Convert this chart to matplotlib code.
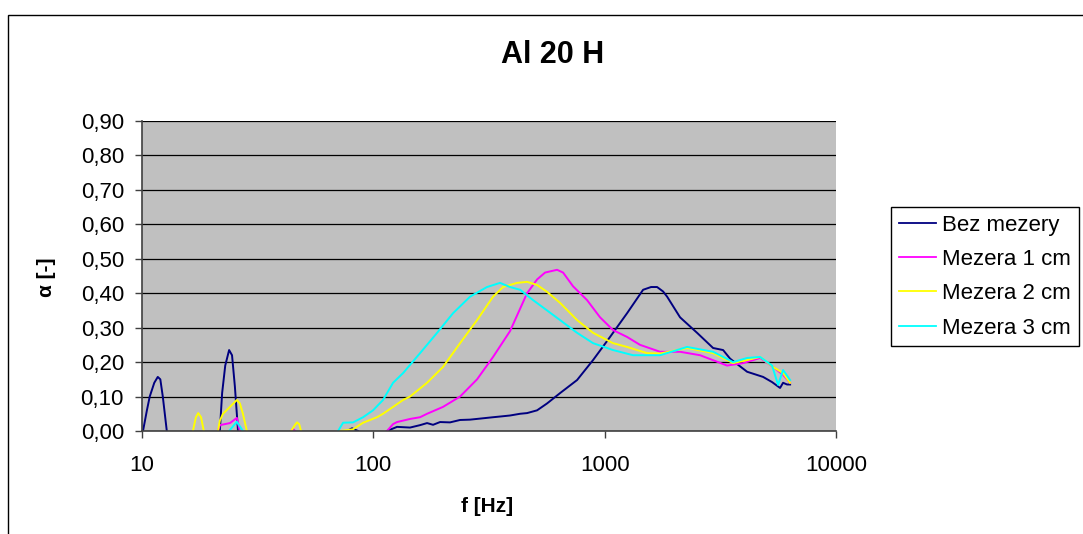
import numpy as np
import matplotlib
matplotlib.use("Agg")
import matplotlib.pyplot as plt
from matplotlib.patches import Rectangle
from matplotlib.ticker import FuncFormatter, FixedLocator, NullLocator

plt.rcParams['font.family'] = ['Liberation Sans', 'DejaVu Sans']

nan = np.nan

# values (frequency in Hz, alpha)
f_bez = [10.1, 10.5, 10.8, 11.3, 11.7, 12.0, 12.3, 12.8, nan,
         21.7, 22.2, 22.9, 23.8, 24.5, 25.2, 25.7, 26.0, nan,
         76.9, 80.9, 85.9, nan,
         114.6, 126.6, 144.1, 159.2, 170.7, 181.2, 194.3, 214.5, 237.1, 261.9,
         289.3, 329.3, 353.0, 389.9, 430.8, 461.9, 510.3, 563.6, 641.5, 760.0,
         891.0, 1055, 1250, 1466, 1587, 1685, 1789, 1862, 2118, 2509, 2942,
         3251, 3485, 4128, 4840, 5292, 5731, 5905, 6145, 6333]
a_bez = [0, 0.06, 0.10, 0.14, 0.157, 0.15, 0.10, 0, nan,
         0, 0.11, 0.19, 0.235, 0.22, 0.13, 0.05, 0, nan,
         0.0, 0.008, 0.0, nan,
         0.0, 0.012, 0.01, 0.017, 0.023, 0.018, 0.026, 0.025, 0.032, 0.033,
         0.036, 0.04, 0.042, 0.045, 0.05, 0.052, 0.06, 0.08, 0.11, 0.148,
         0.206, 0.273, 0.342, 0.41, 0.418, 0.418, 0.405, 0.39, 0.33, 0.285, 0.241,
         0.235, 0.21, 0.172, 0.157, 0.142, 0.125, 0.14, 0.135, 0.135]

f_m1 = [21.3, 21.7, 24.0, 25.7, 26.5, nan,
        44.1, 45.0, 45.9, nan,
        114.6, 121.7, 126.6, 144.1, 159.2, 170.7, 200.1, 237.1, 280.8, 329.3,
        389.9, 461.9, 510.3, 552.6, 622.6, 661.0, 730.2, 839.3, 955.2, 1087,
        1250, 1423, 1736, 2118, 2585, 3382, 3966, 4697, 5346, 5905, 6333]
a_m1 = [0, 0.017, 0.023, 0.038, 0, nan,
        0, 0.006, 0, nan,
        0, 0.02, 0.026, 0.035, 0.04, 0.05, 0.07, 0.10, 0.15, 0.215,
        0.29, 0.40, 0.44, 0.46, 0.468, 0.46, 0.42, 0.38, 0.33, 0.293,
        0.273, 0.25, 0.23, 0.23, 0.22, 0.19, 0.197, 0.212, 0.186, 0.163, 0.14]

f_m2 = [16.6, 17.1, 17.5, 18.0, 18.5, nan,
        21.3, 21.7, 22.4, 24.0, 25.7, 26.5, 27.3, 28.4, nan,
        44.1, 45.9, 46.8, 47.8, 48.7, nan,
        71.8, 81.7, 90.3, 103.7, 110.1, 121.7, 134.4, 144.1, 170.7, 200.1,
        237.1, 280.8, 329.3, 363.7, 418.1, 461.9, 510.3, 563.6, 641.5, 760.0,
        891.0, 1087, 1250, 1525, 1736, 2272, 2942, 3591, 4128, 4697, 5346,
        5905, 6333]
a_m2 = [0, 0.04, 0.052, 0.04, 0, nan,
        0, 0.03, 0.05, 0.07, 0.09, 0.08, 0.05, 0, nan,
        0, 0.018, 0.025, 0.02, 0, nan,
        0, 0.005, 0.024, 0.04, 0.05, 0.07, 0.09, 0.10, 0.14, 0.186,
        0.255, 0.322, 0.39, 0.418, 0.43, 0.433, 0.424, 0.404, 0.372, 0.322,
        0.285, 0.255, 0.244, 0.226, 0.225, 0.241, 0.226, 0.197, 0.206, 0.215, 0.186,
        0.168, 0.14]

f_m3 = [23.8, 25.7, 27.3, nan,
        70.4, 74.0, 81.7, 90.3, 99.7, 110.1, 121.7, 134.4, 159.2, 188.6,
        221.1, 261.9, 310.0, 353.0, 389.9, 430.8, 490.4, 563.6, 641.5, 760.0,
        891.0, 1087, 1327, 1736, 2272, 2942, 3591, 4128, 4697, 5292, 5618,
        5905, 6333]
a_m3 = [0, 0.027, 0, nan,
        0, 0.024, 0.025, 0.04, 0.06, 0.09, 0.14, 0.168, 0.226, 0.285,
        0.342, 0.39, 0.418, 0.43, 0.418, 0.41, 0.38, 0.35, 0.322, 0.285,
        0.255, 0.235, 0.22, 0.22, 0.244, 0.23, 0.2, 0.212, 0.215, 0.19, 0.134,
        0.177, 0.148]

labels = ['Bez mezery', 'Mezera 1 cm', 'Mezera 2 cm', 'Mezera 3 cm']
colors = ['#000080', '#FF00FF', '#FFFF00', '#00FFFF']
x_ticks = [10, 100, 1000, 10000]
y_ticks = [0.0, 0.1, 0.2, 0.3, 0.4, 0.5, 0.6, 0.7, 0.8, 0.9]

W, H = 1083, 534
fig = plt.figure(figsize=(W / 100, H / 100), dpi=100)
fig.patch.set_facecolor('white')

# outer chart frame (cut off at right and bottom)
fig.patches.append(Rectangle((8 / W, -0.2), 2.0, 1 - 15 / H + 0.2, transform=fig.transFigure,
                             fill=False, edgecolor='black', linewidth=1.0))

ax = fig.add_axes([142 / W, 1 - 431 / H, (836 - 142) / W, (431 - 121) / H])
ax.set_facecolor('#C0C0C0')

for f, a, lab, c in zip([f_bez, f_m1, f_m2, f_m3], [a_bez, a_m1, a_m2, a_m3], labels, colors):
    ax.plot(f, a, color=c, lw=1.4, label=lab)

ax.set_xscale('log')
ax.set_xlim(10, 10000)
ax.set_ylim(0, 0.9)
ax.xaxis.set_major_locator(FixedLocator(x_ticks))
ax.xaxis.set_minor_locator(NullLocator())
ax.xaxis.set_major_formatter(FuncFormatter(lambda v, p: '%d' % v))
ax.set_yticks(y_ticks)
ax.yaxis.set_major_formatter(FuncFormatter(lambda v, p: ('%.2f' % v).replace('.', ',')))
ax.yaxis.grid(True, color='black', lw=0.9)
ax.set_axisbelow(True)

for s in ['top', 'right']:
    ax.spines[s].set_visible(False)
for s in ['left', 'bottom']:
    ax.spines[s].set_color('#404040')
    ax.spines[s].set_linewidth(1.2)

ax.tick_params(axis='both', direction='out', length=5, width=1, color='#404040',
               labelsize=16)
ax.tick_params(axis='y', pad=8)
ax.tick_params(axis='x', pad=12)

fig.text(553 / W, 1 - 55 / H, 'Al 20 H', ha='center', va='center', fontsize=22, fontweight='bold')
fig.text(487 / W, 1 - 506 / H, 'f [Hz]', ha='center', va='center', fontsize=15, fontweight='bold')
fig.text(47 / W, 1 - 277 / H, 'α [-]', ha='center', va='center', rotation=90, fontsize=15,
         fontweight='bold')

leg = ax.legend(loc='upper left', bbox_to_anchor=(891 / W, 1 - 207 / H),
                bbox_transform=fig.transFigure, borderaxespad=0, fontsize=16,
                frameon=True, fancybox=False, labelspacing=0.6, handlelength=1.7,
                handletextpad=0.27, borderpad=0.34)
leg.get_frame().set_edgecolor('black')
leg.get_frame().set_linewidth(1.0)
leg.get_frame().set_facecolor('white')
leg.get_frame().set_alpha(1)
for line in leg.get_lines():
    line.set_linewidth(1.3)

fig.savefig('out.png', dpi=100)
